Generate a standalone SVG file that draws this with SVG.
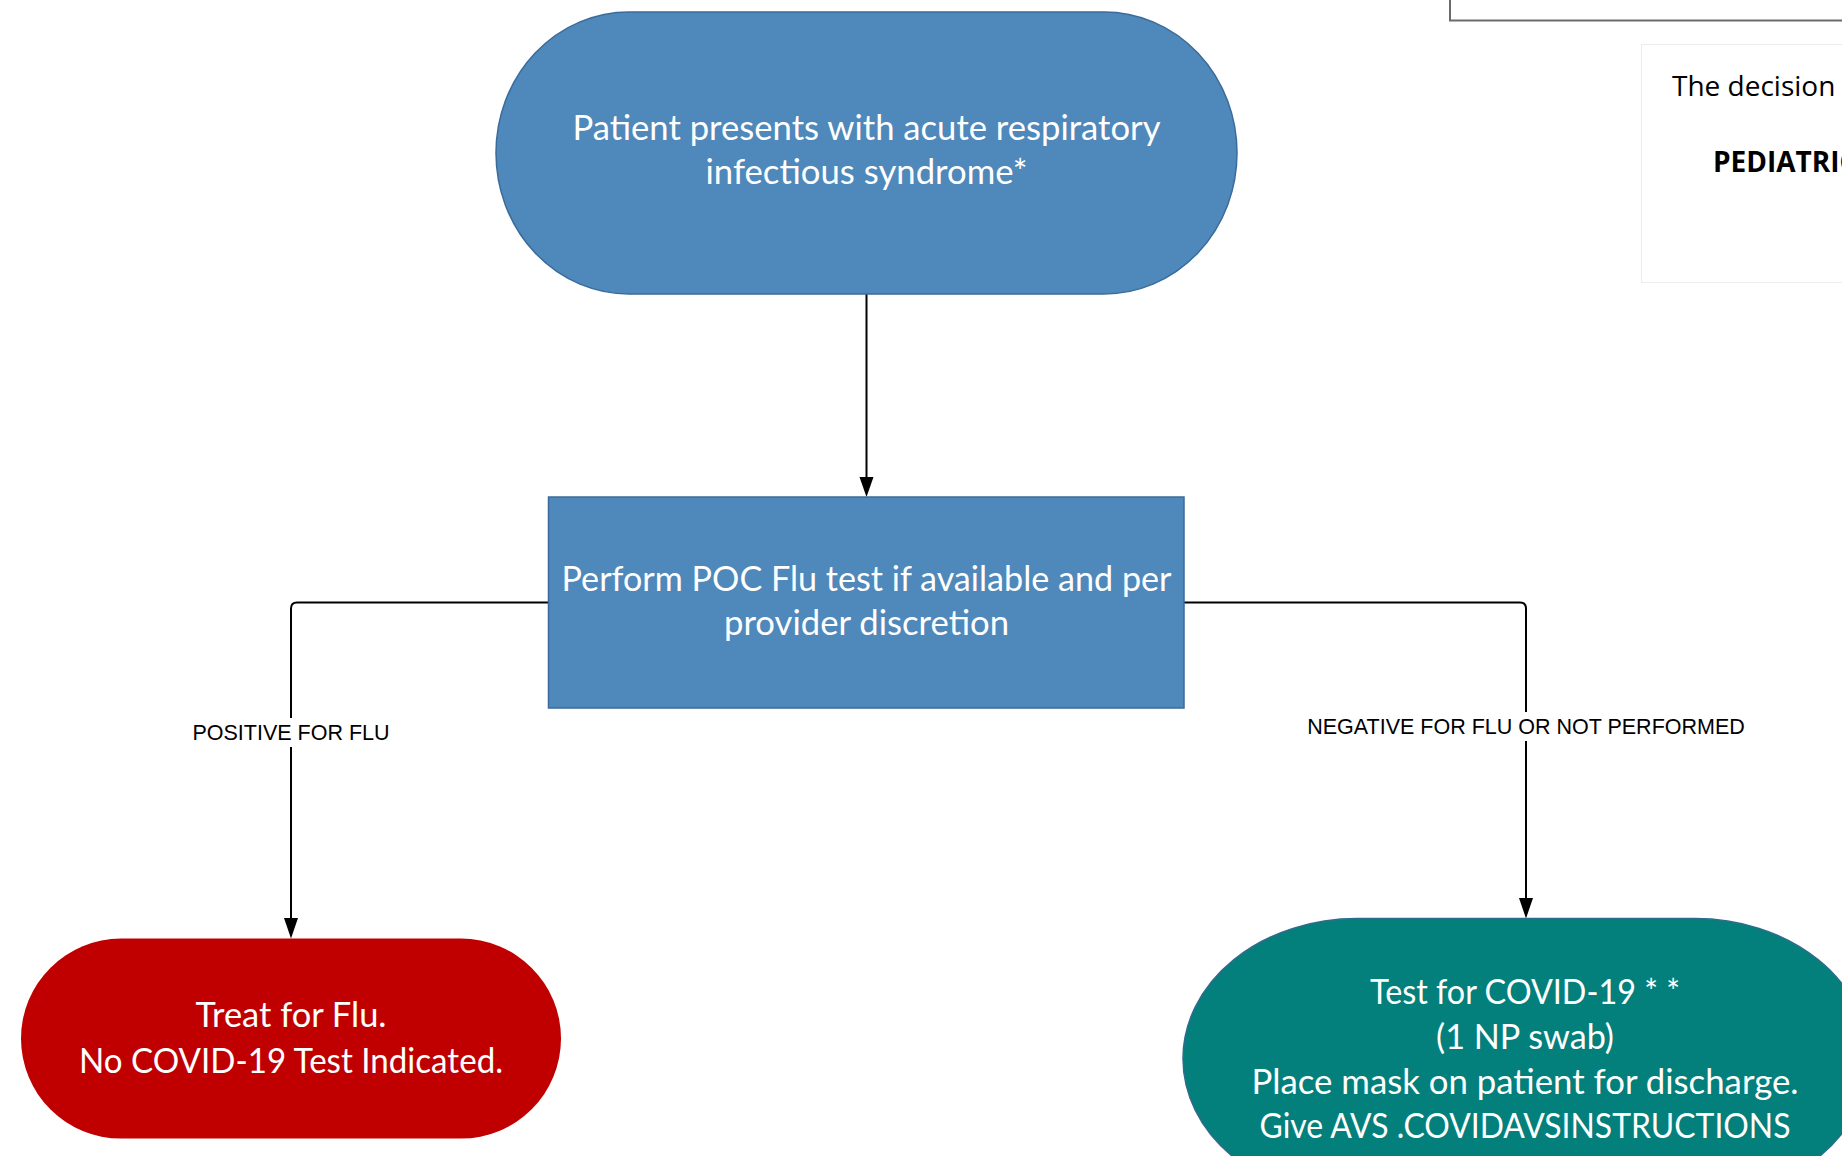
<svg xmlns="http://www.w3.org/2000/svg" width="1842" height="1156" viewBox="0 0 1842 1156">
<style>
.node-text{font-family:Lato,"Liberation Sans",sans-serif;font-size:34px;fill:#ffffff;text-anchor:middle}
.lbl{font-family:"Liberation Sans",Arial,sans-serif;font-size:21.5px;fill:#000000;text-anchor:middle}
.conn{fill:none;stroke:#000000;stroke-width:2}
.note{font-family:"Open Sans","Liberation Sans",sans-serif;font-size:28px;fill:#000000}
</style>
<rect width="1842" height="1156" fill="#ffffff"/>

<g id="top-frame">
<rect x="1450" y="-10" width="420" height="30.5" fill="none" stroke="#6b6b6b" stroke-width="2"/>
</g>
<g id="note-box">
<rect x="1641.5" y="44.5" width="230" height="238" fill="#ffffff" stroke="#ececec" stroke-width="1"/>
<text class="note" x="1672" y="96">The decision</text>
<text class="note" x="1713" y="172" font-weight="bold">PEDIATRIC</text>
</g>

<g id="connectors">
<line class="conn" x1="866.5" y1="294" x2="866.5" y2="477"/>
<path d="M859.5,477 L873.5,477 L866.5,497 Z" fill="#000"/>
<path class="conn" d="M548.5,602.6 L297,602.6 Q291,602.6 291,608.6 L291,918"/>
<path d="M284,918 L298,918 L291,938.6 Z" fill="#000"/>
<path class="conn" d="M1184,602.6 L1520,602.6 Q1526,602.6 1526,608.6 L1526,898"/>
<path d="M1519,898 L1533,898 L1526,918.6 Z" fill="#000"/>
<rect x="190" y="718" width="202" height="29" fill="#ffffff"/>
<text class="lbl" x="291" y="739.5">POSITIVE FOR FLU</text>
<rect x="1303" y="712" width="446" height="29" fill="#ffffff"/>
<text class="lbl" x="1526" y="733.5">NEGATIVE FOR FLU OR NOT PERFORMED</text>
</g>

<g id="start">
<rect x="496" y="12" width="741" height="282" rx="133" ry="141" fill="#4f88ba" stroke="#3a6b9b" stroke-width="1.5"/>
<text class="node-text" x="866.5" y="140" textLength="588" lengthAdjust="spacingAndGlyphs">Patient presents with acute respiratory</text>
<text class="node-text" x="866.5" y="184" textLength="322" lengthAdjust="spacingAndGlyphs">infectious syndrome*</text>
</g>

<g id="poc-flu">
<rect x="548.5" y="497" width="635.5" height="211" fill="#4f88ba" stroke="#3a6b9b" stroke-width="1.5"/>
<text class="node-text" x="866.5" y="590.5" textLength="610" lengthAdjust="spacingAndGlyphs">Perform POC Flu test if available and per</text>
<text class="node-text" x="866.5" y="634.5" textLength="285" lengthAdjust="spacingAndGlyphs">provider discretion</text>
</g>

<g id="treat-flu">
<rect x="21" y="938.6" width="540" height="200" rx="100" ry="100" fill="#c00000"/>
<text class="node-text" x="291" y="1027" textLength="191" lengthAdjust="spacingAndGlyphs">Treat for Flu.</text>
<text class="node-text" x="291" y="1073" textLength="424" lengthAdjust="spacingAndGlyphs">No COVID-19 Test Indicated.</text>
</g>

<g id="test-covid">
<rect x="1183" y="918.6" width="686" height="280" rx="174" ry="140" fill="#037f7c" stroke="#2f6b8c" stroke-width="1.5"/>
<text class="node-text" x="1525" y="1004" textLength="310" lengthAdjust="spacingAndGlyphs">Test for COVID-19 * *</text>
<text class="node-text" x="1525" y="1049" textLength="178" lengthAdjust="spacingAndGlyphs">(1 NP swab)</text>
<text class="node-text" x="1525" y="1094" textLength="547" lengthAdjust="spacingAndGlyphs">Place mask on patient for discharge.</text>
<text class="node-text" x="1525" y="1138" textLength="531" lengthAdjust="spacingAndGlyphs">Give AVS .COVIDAVSINSTRUCTIONS</text>
</g>
</svg>
